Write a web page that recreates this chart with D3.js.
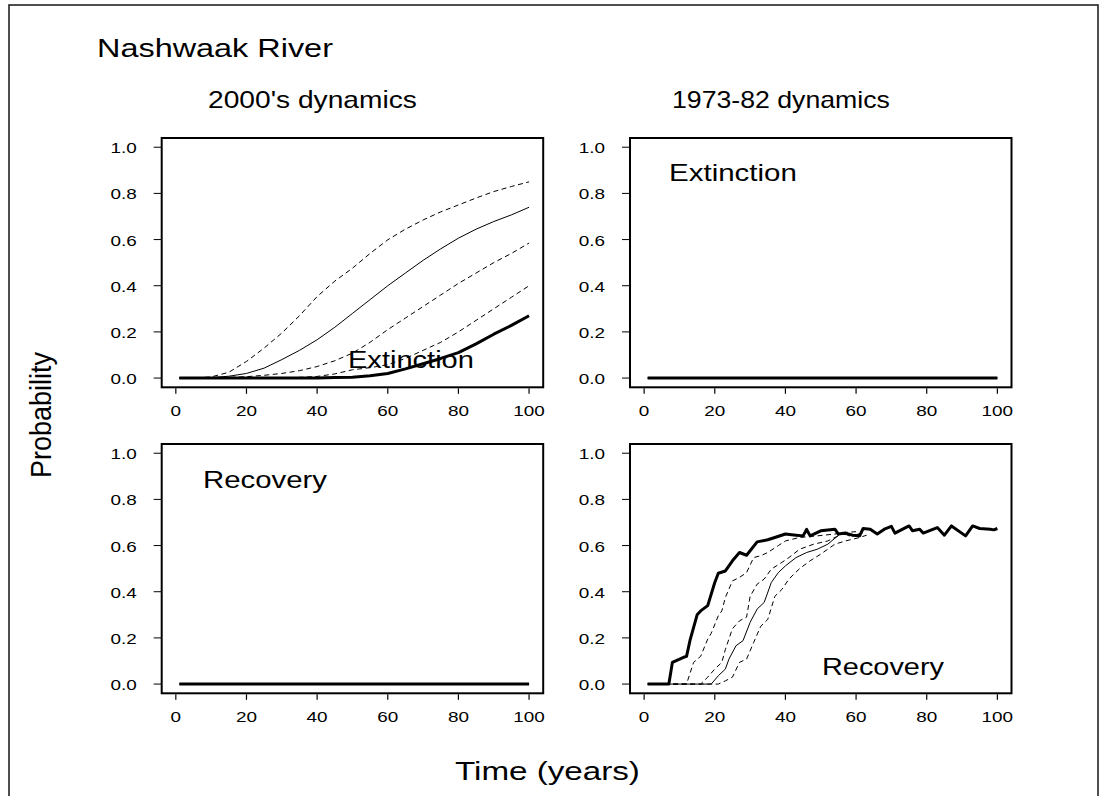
<!DOCTYPE html>
<html><head><meta charset="utf-8">
<script src="https://cdn.jsdelivr.net/npm/d3@7/dist/d3.min.js"></script>
<style>
body{margin:0;background:#fff}
svg{display:block}
text{font-family:"Liberation Sans",Arial,Helvetica,sans-serif;fill:#000}
</style>
</head><body>
<svg id="c" width="1107" height="796"></svg>
<script>
// ---------------- data ----------------
const yTicks = [0, 0.2, 0.4, 0.6, 0.8, 1.0];
const yTickLabels = ["0.0", "0.2", "0.4", "0.6", "0.8", "1.0"];
const xTicks = [0, 20, 40, 60, 80, 100];
const xTickLabels = ["0", "20", "40", "60", "80", "100"];

// 2000's dynamics – extinction probability (years 1..100)
const years2000 = [1, 5, 10, 15, 20, 25, 30, 35, 40, 45, 50, 55, 60, 65, 70, 75, 80, 85, 90, 95, 100];
const ext2000Upper  = [0, 0, 0.005, 0.025, 0.072, 0.13, 0.195, 0.27, 0.353, 0.42, 0.476, 0.54, 0.599, 0.645, 0.685, 0.72, 0.75, 0.78, 0.808, 0.83, 0.85];
const ext2000Thin   = [0, 0, 0.002, 0.008, 0.02, 0.043, 0.08, 0.12, 0.166, 0.22, 0.28, 0.34, 0.40, 0.455, 0.51, 0.56, 0.606, 0.645, 0.678, 0.707, 0.74];
const ext2000Mid    = [0, 0, 0, 0.003, 0.006, 0.012, 0.02, 0.032, 0.05, 0.075, 0.108, 0.155, 0.21, 0.26, 0.31, 0.36, 0.41, 0.455, 0.50, 0.54, 0.585];
const ext2000Lower  = [0, 0, 0, 0, 0, 0, 0, 0.003, 0.007, 0.018, 0.036, 0.045, 0.058, 0.085, 0.12, 0.155, 0.20, 0.25, 0.30, 0.35, 0.40];
const ext2000Thick  = [0, 0, 0, 0, 0, 0, 0, 0, 0, 0.002, 0.004, 0.01, 0.02, 0.04, 0.062, 0.085, 0.11, 0.148, 0.19, 0.228, 0.27];

// flat (zero) series for panels with no events
const flatYears = [1, 100];
const flatVals = [0, 0];

// 1973-82 dynamics – recovery probability
const rec73ThickYears = [1, 7, 8, 11, 12, 13, 15, 16, 18, 20, 21, 23, 25, 27, 29, 32, 35, 37, 40, 43, 45, 46, 47, 50, 54, 55, 57, 59, 61, 62, 64, 66, 68, 70, 71, 75, 76, 78, 79, 83, 85, 87, 91, 93, 95, 98, 99, 100];
const rec73ThickVals  = [0, 0, 0.094, 0.115, 0.12, 0.19, 0.30, 0.317, 0.34, 0.44, 0.48, 0.49, 0.534, 0.57, 0.558, 0.616, 0.625, 0.635, 0.65, 0.645, 0.642, 0.67, 0.642, 0.664, 0.671, 0.65, 0.654, 0.645, 0.642, 0.674, 0.671, 0.65, 0.671, 0.683, 0.654, 0.685, 0.664, 0.671, 0.654, 0.678, 0.645, 0.685, 0.642, 0.685, 0.674, 0.671, 0.668, 0.674];
const rec73Dash1Years = [1, 12, 14, 16, 18, 19, 21, 22, 23, 25, 27, 29, 31, 33, 35, 38, 40, 44, 49, 54, 57, 60];
const rec73Dash1Vals  = [0, 0, 0.094, 0.12, 0.195, 0.22, 0.296, 0.317, 0.375, 0.447, 0.462, 0.483, 0.548, 0.556, 0.57, 0.60, 0.62, 0.635, 0.642, 0.65, 0.657, 0.66];
const rec73Dash2Years = [1, 16, 18, 20, 22, 23, 25, 27, 29, 30, 32, 34, 36, 39, 41, 44, 48, 52, 56, 59, 62];
const rec73Dash2Vals  = [0, 0, 0.03, 0.065, 0.094, 0.15, 0.24, 0.274, 0.29, 0.38, 0.433, 0.455, 0.498, 0.527, 0.548, 0.584, 0.606, 0.62, 0.65, 0.642, 0.655];
const rec73ThinYears  = [1, 19, 21, 23, 24, 26, 28, 30, 32, 34, 36, 38, 40, 43, 46, 49, 52, 56, 58, 61];
const rec73ThinVals   = [0, 0, 0.036, 0.065, 0.108, 0.166, 0.188, 0.267, 0.325, 0.354, 0.44, 0.483, 0.512, 0.548, 0.57, 0.584, 0.606, 0.657, 0.642, 0.65];
const rec73Dash3Years = [1, 21, 23, 25, 27, 29, 31, 33, 35, 37, 39, 41, 44, 47, 50, 54, 57, 61, 63];
const rec73Dash3Vals  = [0, 0, 0.014, 0.03, 0.094, 0.108, 0.18, 0.25, 0.28, 0.38, 0.41, 0.455, 0.50, 0.534, 0.563, 0.606, 0.62, 0.635, 0.645];

// ---------------- drawing ----------------
const svg = d3.select("#c");
svg.append("rect").attr("x", 9).attr("y", 5).attr("width", 1089).attr("height", 830)
  .attr("fill", "none").attr("stroke", "#222").attr("stroke-width", 1.6);

function fitText(parent, str, x, y, size, width, anchor, sx) {
  const t = parent.append("text").attr("font-size", size).attr("text-anchor", anchor || "start").text(str);
  const w = t.node().getComputedTextLength();
  const s = width ? width / w : (sx || 1);
  t.attr("transform", `translate(${x},${y}) scale(${s},1)`);
  return t;
}

const PW = 381.5, PH = 249.3;
const panels = [
  { left: 161.7, top: 138, series: [
      { x: years2000, y: ext2000Upper, k: "dash" },
      { x: years2000, y: ext2000Thin, k: "thin" },
      { x: years2000, y: ext2000Mid, k: "dash" },
      { x: years2000, y: ext2000Lower, k: "dash" },
      { x: years2000, y: ext2000Thick, k: "thick" } ] },
  { left: 630, top: 138, series: [
      { x: flatYears, y: flatVals, k: "dash" },
      { x: flatYears, y: flatVals, k: "thin" },
      { x: flatYears, y: flatVals, k: "thick" } ] },
  { left: 161.7, top: 444, series: [
      { x: flatYears, y: flatVals, k: "dash" },
      { x: flatYears, y: flatVals, k: "thin" },
      { x: flatYears, y: flatVals, k: "thick" } ] },
  { left: 630, top: 444, series: [
      { x: rec73Dash1Years, y: rec73Dash1Vals, k: "dash" },
      { x: rec73Dash2Years, y: rec73Dash2Vals, k: "dash" },
      { x: rec73ThinYears, y: rec73ThinVals, k: "thin" },
      { x: rec73Dash3Years, y: rec73Dash3Vals, k: "dash" },
      { x: rec73ThickYears, y: rec73ThickVals, k: "thick" } ] }
];

const styles = {
  thick: { w: 3, dash: null },
  thin: { w: 1, dash: null },
  dash: { w: 1, dash: "5,3.5" }
};

panels.forEach(p => {
  const g = svg.append("g");
  const x = d3.scaleLinear().domain([-4, 104]).range([p.left, p.left + PW]);
  const y = d3.scaleLinear().domain([-0.04, 1.04]).range([p.top + PH, p.top]);
  const bottom = p.top + PH;

  const line = d3.line().x(d => x(d[0])).y(d => y(d[1]));
  p.series.forEach(s => {
    const pts = s.x.map((v, i) => [v, s.y[i]]);
    const st = styles[s.k];
    g.append("path").datum(pts).attr("d", line)
      .attr("fill", "none").attr("stroke", "#000")
      .attr("stroke-width", st.w).attr("stroke-linejoin", "round")
      .attr("stroke-dasharray", st.dash);
  });

  g.append("rect").attr("x", p.left).attr("y", p.top).attr("width", PW).attr("height", PH)
    .attr("fill", "none").attr("stroke", "#000").attr("stroke-width", 2);

  yTicks.forEach((v, i) => {
    g.append("line").attr("x1", p.left - 8).attr("x2", p.left).attr("y1", y(v)).attr("y2", y(v))
      .attr("stroke", "#000").attr("stroke-width", 1);
    fitText(g, yTickLabels[i], p.left - 25, y(v) + 6, 14, null, "end", 1.35);
  });
  xTicks.forEach((v, i) => {
    g.append("line").attr("x1", x(v)).attr("x2", x(v)).attr("y1", bottom + 1).attr("y2", bottom + 6.5)
      .attr("stroke", "#000").attr("stroke-width", 1.2);
    fitText(g, xTickLabels[i], x(v), bottom + 29, 14, null, "middle", 1.35);
  });
});

// in-panel labels
fitText(svg, "Extinction", 348, 367.5, 23, 126);
fitText(svg, "Extinction", 669, 181, 23, 128);
fitText(svg, "Recovery", 203, 488, 23, 124);
fitText(svg, "Recovery", 822, 675, 23, 122);

// titles
fitText(svg, "Nashwaak River", 97, 57, 26, 236);
fitText(svg, "2000's dynamics", 208, 108, 24, 209);
fitText(svg, "1973-82 dynamics", 672, 108, 24, 218);
fitText(svg, "Time (years)", 455, 780, 26, 185);

// y-axis title (rotated)
{
  const t = svg.append("text").attr("font-size", 22).attr("text-anchor", "middle").text("Probability");
  const w = t.node().getComputedTextLength();
  t.attr("transform", `translate(51,415) rotate(-90) scale(${126 / w},1.35)`);
}
</script>
</body></html>
